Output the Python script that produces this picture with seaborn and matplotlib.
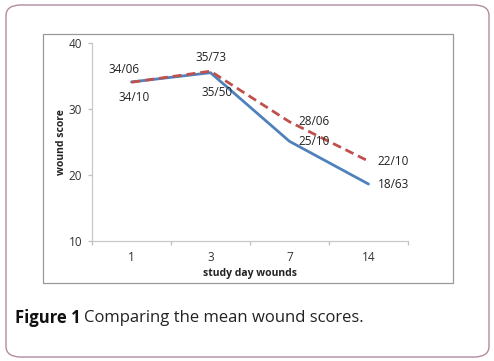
import matplotlib
matplotlib.use("Agg")
import matplotlib.pyplot as plt
import seaborn as sns
import pandas as pd
from matplotlib.patches import FancyBboxPatch, Rectangle

days = ["1", "3", "7", "14"]
series_solid = [34.10, 35.50, 25.10, 18.63]
series_dashed = [34.06, 35.73, 28.06, 22.10]
labels_solid = ["34/10", "35/50", "25/10", "18/63"]
labels_dashed = ["34/06", "35/73", "28/06", "22/10"]
y_ticks = [10, 20, 30, 40]

sns.set_style("white")
plt.rcParams['font.family'] = ['Open Sans', 'DejaVu Sans']

df = pd.DataFrame({
    "day": days * 2,
    "score": series_solid + series_dashed,
    "group": ["solid"] * 4 + ["dashed"] * 4,
})

W, H = 494, 361
fig = plt.figure(figsize=(W / 100, H / 100), dpi=100)

# outer rounded frame
fig.patches.append(FancyBboxPatch((6 / W, 1 - 357 / H), (489 - 6) / W, (357 - 5) / H,
                                  boxstyle="round,pad=0,rounding_size=0.03",
                                  transform=fig.transFigure, fill=False,
                                  edgecolor="#b48aa0", linewidth=1.0))
# chart frame
fig.patches.append(Rectangle((43 / W, 1 - 283 / H), (453 - 43) / W, (283 - 34) / H,
                             transform=fig.transFigure, fill=False,
                             edgecolor="#999999", linewidth=0.9))

ax = fig.add_axes([92 / W, 1 - 241 / H, (408 - 92) / W, (241 - 43) / H])
sns.lineplot(data=df, x="day", y="score", hue="group", style="group",
             palette={"solid": "#4F81BD", "dashed": "#C0504D"},
             dashes={"solid": "", "dashed": (3.2, 1.8)},
             linewidth=2.0, legend=False, ax=ax, sort=False)

ax.set_xlim(-0.5, 3.5)
ax.set_ylim(10, 40)
ax.set_yticks(y_ticks)
ax.set_xticks(range(len(days)))
ax.set_xticklabels(days)
ax.set_xticks([-0.5, 0.5, 1.5, 2.5, 3.5], minor=True)
ax.tick_params(axis="x", which="major", bottom=False, length=0, labelsize=8.5, pad=7,
               labelcolor="#333333")
ax.tick_params(axis="x", which="minor", bottom=True, length=3, width=0.9,
               color="#bfbfbf", direction="out")
ax.tick_params(axis="y", left=True, length=3, width=0.9, color="#bfbfbf",
               labelsize=8.5, labelcolor="#333333", pad=4)
for s in ["top", "right"]:
    ax.spines[s].set_visible(False)
for s in ["left", "bottom"]:
    ax.spines[s].set_color("#c8c8c8")
    ax.spines[s].set_linewidth(0.9)

ax.set_xlabel("study day wounds", fontsize=7.5, fontweight="bold", labelpad=3, color="#222222")
ax.set_ylabel("wound score", fontsize=7.5, fontweight="bold", labelpad=1, color="#222222")

offsets_dashed = [(-5, 9), (0, 9.5), (18, 0.5), (18, -0.5)]
offsets_solid = [(2, -11), (5, -14), (18, 0), (18, -0.5)]
for i, (v, t) in enumerate(zip(series_dashed, labels_dashed)):
    ax.annotate(t, (i, v), xytext=offsets_dashed[i], textcoords="offset points",
                ha="center", va="center", fontsize=8.5, color="#222222")
for i, (v, t) in enumerate(zip(series_solid, labels_solid)):
    ax.annotate(t, (i, v), xytext=offsets_solid[i], textcoords="offset points",
                ha="center", va="center", fontsize=8.5, color="#222222")

fig.text(15 / W, 1 - 318 / H, "Figure 1", fontsize=12, fontweight="bold",
         va="center", ha="left", color="#111111")
fig.text(84 / W, 1 - 318 / H, "Comparing the mean wound scores.", fontsize=12,
         va="center", ha="left", color="#222222")

fig.savefig("out.png", dpi=100)
